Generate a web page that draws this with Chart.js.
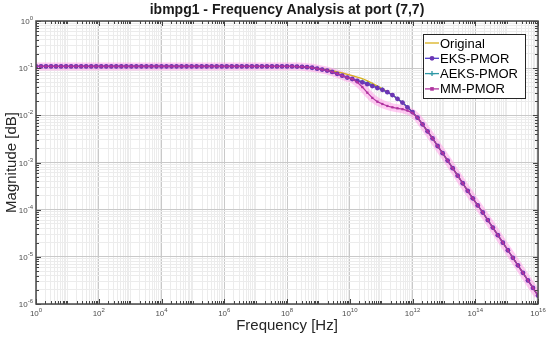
<!DOCTYPE html>
<html>
<head>
<meta charset="utf-8">
<script src="https://cdn.jsdelivr.net/npm/chart.js@4.4.1/dist/chart.umd.min.js"></script>
<style>
  html, body { margin: 0; padding: 0; background: #fff; }
  #wrap { width: 550px; height: 338px; }
</style>
</head>
<body>
<div id="wrap"><canvas id="freqChart"></canvas></div>
<script>
// frequency sweep: 101 log-spaced points from 1 Hz to 1e16 Hz
const freqHz = [];
for (let i = 0; i <= 100; i++) freqHz.push(Math.pow(10, i * 0.16));

const original = [
  0.109, 0.109, 0.109, 0.109, 0.109, 0.109, 0.109, 0.109, 0.109, 0.109,
  0.109, 0.109, 0.109, 0.109, 0.109, 0.109, 0.109, 0.109, 0.109, 0.109,
  0.109, 0.109, 0.109, 0.109, 0.109, 0.109, 0.109, 0.109, 0.109, 0.109,
  0.109, 0.109, 0.109, 0.109, 0.109, 0.109, 0.109, 0.109, 0.109, 0.109,
  0.109, 0.109, 0.109, 0.109, 0.109, 0.109, 0.109, 0.109, 0.109, 0.109,
  0.109, 0.109, 0.108, 0.107, 0.105, 0.102, 0.100, 0.0966, 0.0933, 0.0891,
  0.0832, 0.0794, 0.0741, 0.0692, 0.0646, 0.0603, 0.0537, 0.0479, 0.0417, 0.0363,
  0.0316, 0.0269, 0.0224, 0.0186, 0.0148, 0.0117, 0.00891, 0.00646, 0.00457, 0.00324,
  0.00224, 0.00158, 0.00110, 0.000759, 0.000525, 0.000363, 0.000251, 0.000174, 0.000123, 8.71e-5,
  6.03e-5, 4.17e-5, 2.88e-5, 2.00e-5, 1.38e-5, 9.55e-6, 6.61e-6, 4.57e-6, 3.16e-6, 2.19e-6,
  1.51e-6
];

const eksPmor = [
  0.109, 0.109, 0.109, 0.109, 0.109, 0.109, 0.109, 0.109, 0.109, 0.109,
  0.109, 0.109, 0.109, 0.109, 0.109, 0.109, 0.109, 0.109, 0.109, 0.109,
  0.109, 0.109, 0.109, 0.109, 0.109, 0.109, 0.109, 0.109, 0.109, 0.109,
  0.109, 0.109, 0.109, 0.109, 0.109, 0.109, 0.109, 0.109, 0.109, 0.109,
  0.109, 0.109, 0.109, 0.109, 0.109, 0.109, 0.109, 0.109, 0.109, 0.109,
  0.109, 0.109, 0.108, 0.107, 0.105, 0.102, 0.0977, 0.0933, 0.0891, 0.0832,
  0.0759, 0.0692, 0.0631, 0.0589, 0.0537, 0.0501, 0.0457, 0.0417, 0.0380, 0.0347,
  0.0309, 0.0269, 0.0224, 0.0186, 0.0148, 0.0117, 0.00891, 0.00646, 0.00457, 0.00324,
  0.00224, 0.00158, 0.00110, 0.000759, 0.000525, 0.000363, 0.000251, 0.000174, 0.000123, 8.71e-5,
  6.03e-5, 4.17e-5, 2.88e-5, 2.00e-5, 1.38e-5, 9.55e-6, 6.61e-6, 4.57e-6, 3.16e-6, 2.19e-6,
  1.51e-6
];

const aeksPmor = [
  0.109, 0.109, 0.109, 0.109, 0.109, 0.109, 0.109, 0.109, 0.109, 0.109,
  0.109, 0.109, 0.109, 0.109, 0.109, 0.109, 0.109, 0.109, 0.109, 0.109,
  0.109, 0.109, 0.109, 0.109, 0.109, 0.109, 0.109, 0.109, 0.109, 0.109,
  0.109, 0.109, 0.109, 0.109, 0.109, 0.109, 0.109, 0.109, 0.109, 0.109,
  0.109, 0.109, 0.109, 0.109, 0.109, 0.109, 0.109, 0.109, 0.109, 0.109,
  0.109, 0.109, 0.108, 0.107, 0.105, 0.102, 0.0977, 0.0933, 0.0891, 0.0832,
  0.0759, 0.0692, 0.0631, 0.0589, 0.0537, 0.0525, 0.0490, 0.0447, 0.0398, 0.0355,
  0.0309, 0.0269, 0.0224, 0.0186, 0.0148, 0.0117, 0.00891, 0.00646, 0.00457, 0.00324,
  0.00224, 0.00158, 0.00110, 0.000759, 0.000525, 0.000363, 0.000251, 0.000174, 0.000123, 8.71e-5,
  6.03e-5, 4.17e-5, 2.88e-5, 2.00e-5, 1.38e-5, 9.55e-6, 6.61e-6, 4.57e-6, 3.16e-6, 2.19e-6,
  1.51e-6
];

const mmPmor = [
  0.109, 0.109, 0.109, 0.109, 0.109, 0.109, 0.109, 0.109, 0.109, 0.109,
  0.109, 0.109, 0.109, 0.109, 0.109, 0.109, 0.109, 0.109, 0.109, 0.109,
  0.109, 0.109, 0.109, 0.109, 0.109, 0.109, 0.109, 0.109, 0.109, 0.109,
  0.109, 0.109, 0.109, 0.109, 0.109, 0.109, 0.109, 0.109, 0.109, 0.109,
  0.109, 0.109, 0.109, 0.109, 0.109, 0.109, 0.109, 0.109, 0.109, 0.109,
  0.109, 0.109, 0.108, 0.107, 0.105, 0.102, 0.0977, 0.0933, 0.0891, 0.0832,
  0.0759, 0.0692, 0.0631, 0.0589, 0.0501, 0.0398, 0.0302, 0.0234, 0.0195, 0.0174,
  0.0158, 0.0148, 0.0141, 0.0135, 0.0126, 0.0112, 0.00891, 0.00646, 0.00457, 0.00324,
  0.00224, 0.00158, 0.00110, 0.000759, 0.000525, 0.000363, 0.000251, 0.000174, 0.000123, 8.71e-5,
  6.03e-5, 4.17e-5, 2.88e-5, 2.00e-5, 1.38e-5, 9.55e-6, 6.61e-6, 4.57e-6, 3.16e-6, 2.19e-6,
  1.51e-6
];

const seriesNames = ['Original', 'EKS-PMOR', 'AEKS-PMOR', 'MM-PMOR'];
const xTickExps = [0, 2, 4, 6, 8, 10, 12, 14, 16];
const yTickExps = [0, -1, -2, -3, -4, -5, -6];

const toPts = arr => arr.map((v, i) => ({ x: freqHz[i], y: v }));

// every 1..9 x 10^k between the limits
function logTicks(lo, hi) {
  const out = [];
  for (let k = lo; k <= hi; k++) {
    for (let m = 1; m <= 9; m++) {
      if (k === hi && m > 1) break;
      out.push({ value: m * Math.pow(10, k), major: m === 1, exp: k });
    }
  }
  return out;
}

const colors = {
  original: '#d8b01c',
  eks: '#4a3ccc',
  eksFill: '#6c36b4',
  aeks: '#2f98a6',
  mm: '#b0339f',
  halo: 'rgba(255, 160, 232, 0.55)'
};

const sup = (ctx, base, exp, x, y, align) => {
  ctx.font = '8px "Liberation Sans", Arial, sans-serif';
  const bw = ctx.measureText(base).width;
  ctx.font = '6px "Liberation Sans", Arial, sans-serif';
  const ew = ctx.measureText(exp).width;
  let x0 = x;
  if (align === 'center') x0 = x - (bw + ew) / 2;
  if (align === 'right') x0 = x - (bw + ew);
  ctx.textAlign = 'left';
  ctx.textBaseline = 'alphabetic';
  ctx.font = '8px "Liberation Sans", Arial, sans-serif';
  ctx.fillText(base, x0, y);
  ctx.font = '6px "Liberation Sans", Arial, sans-serif';
  ctx.fillText(exp, x0 + bw, y - 4);
};

const decorPlugin = {
  id: 'decor',
  afterDraw(chart) {
    const ctx = chart.ctx;
    const ca = chart.chartArea;
    const xs = chart.scales.x, ys = chart.scales.y;
    ctx.save();

    // inside tick marks
    ctx.strokeStyle = '#444';
    ctx.lineWidth = 1;
    xs.ticks.forEach(t => {
      const px = Math.round(xs.getPixelForValue(t.value)) + 0.5;
      const len = t.major && t.exp % 2 === 0 ? 5 : 3;
      ctx.beginPath();
      ctx.moveTo(px, ca.bottom); ctx.lineTo(px, ca.bottom - len);
      ctx.moveTo(px, ca.top); ctx.lineTo(px, ca.top + len);
      ctx.stroke();
    });
    ys.ticks.forEach(t => {
      const py = Math.round(ys.getPixelForValue(t.value)) + 0.5;
      const len = t.major ? 5 : 3;
      ctx.beginPath();
      ctx.moveTo(ca.left, py); ctx.lineTo(ca.left + len, py);
      ctx.moveTo(ca.right, py); ctx.lineTo(ca.right - len, py);
      ctx.stroke();
    });

    // frame
    ctx.strokeStyle = '#4a4a4a';
    ctx.lineWidth = 1.5;
    ctx.strokeRect(ca.left, ca.top, ca.right - ca.left, ca.bottom - ca.top);

    // tick labels
    ctx.fillStyle = '#4d4d4d';
    xTickExps.forEach(e => {
      const px = xs.getPixelForValue(Math.pow(10, e));
      sup(ctx, '10', String(e), px, ca.bottom + 12, 'center');
    });
    yTickExps.forEach(e => {
      const py = ys.getPixelForValue(Math.pow(10, e));
      sup(ctx, '10', e === 0 ? '0' : String(e), ca.left - 3, py + 3, 'right');
    });

    // title and axis titles
    const cx = (ca.left + ca.right) / 2;
    ctx.fillStyle = '#1a1a1a';
    ctx.textAlign = 'center';
    ctx.textBaseline = 'middle';
    ctx.font = 'bold 14px "Liberation Sans", Arial, sans-serif';
    ctx.fillText('ibmpg1 - Frequency Analysis at port (7,7)', cx, 10);
    ctx.font = '15px "Liberation Sans", Arial, sans-serif';
    ctx.fillStyle = '#262626';
    ctx.fillText('Frequency [Hz]', cx, 326);
    ctx.save();
    ctx.translate(12, (ca.top + ca.bottom) / 2);
    ctx.rotate(-Math.PI / 2);
    ctx.fillText('Magnitude [dB]', 0, 0);
    ctx.restore();

    // legend
    const lx = ca.right - 115, ly = ca.top + 13, lw = 102, lh = 64;
    ctx.fillStyle = '#fff';
    ctx.fillRect(lx, ly, lw, lh);
    ctx.strokeStyle = '#262626';
    ctx.lineWidth = 1;
    ctx.strokeRect(lx + 0.5, ly + 0.5, lw, lh);
    const items = [
      { c: colors.original, m: null },
      { c: colors.eks, m: 'circle' },
      { c: colors.aeks, m: 'cross' },
      { c: colors.mm, m: 'rect' }
    ];
    items.forEach((it, i) => {
      const ry = ly + 9 + i * 15.3;
      ctx.strokeStyle = it.c;
      ctx.lineWidth = 1.3;
      ctx.beginPath();
      ctx.moveTo(lx + 2, ry); ctx.lineTo(lx + 16, ry);
      ctx.stroke();
      const mx = lx + 9;
      if (it.m === 'circle') {
        ctx.fillStyle = colors.eksFill;
        ctx.beginPath(); ctx.arc(mx, ry, 2.4, 0, Math.PI * 2); ctx.fill();
      } else if (it.m === 'cross') {
        ctx.beginPath();
        ctx.moveTo(mx - 2.5, ry); ctx.lineTo(mx + 2.5, ry);
        ctx.moveTo(mx, ry - 2.5); ctx.lineTo(mx, ry + 2.5);
        ctx.stroke();
      } else if (it.m === 'rect') {
        ctx.fillStyle = it.c;
        ctx.fillRect(mx - 1.8, ry - 1.8, 3.6, 3.6);
      }
      ctx.fillStyle = '#000';
      ctx.textAlign = 'left';
      ctx.font = '13px "Liberation Sans", Arial, sans-serif';
      ctx.fillText(seriesNames[i], lx + 17, ry + 1);
    });
    ctx.restore();
  }
};

const gridColor = (c) => {
  const t = c.tick;
  if (!t) return '#eeeeee';
  const lg = Math.log10(t.value);
  const isDecade = Math.abs(lg - Math.round(lg)) < 1e-9;
  if (c.scale.axis === 'x') return isDecade && Math.round(lg) % 2 === 0 ? '#c9c9c9' : '#ececec';
  return isDecade ? '#c9c9c9' : '#ececec';
};

new Chart(document.getElementById('freqChart'), {
  type: 'line',
  data: {
    datasets: [
      {
        label: 'halo', data: toPts(mmPmor), borderColor: colors.halo,
        borderWidth: 8, pointRadius: 0, order: 9
      },
      {
        label: seriesNames[2], data: toPts(aeksPmor), borderColor: colors.aeks,
        backgroundColor: colors.aeks, borderWidth: 1.2,
        pointRadius: 2, pointBorderWidth: 1, pointStyle: 'cross', order: 6
      },
      {
        label: seriesNames[0], data: toPts(original), borderColor: colors.original,
        borderWidth: 1.3, pointRadius: 0, order: 5
      },
      {
        label: seriesNames[1], data: toPts(eksPmor), borderColor: colors.eks,
        backgroundColor: colors.eksFill, borderWidth: 1.3,
        pointRadius: 2.4, pointBorderWidth: 0, pointStyle: 'circle', order: 4
      },
      {
        label: seriesNames[3], data: toPts(mmPmor), borderColor: colors.mm,
        backgroundColor: colors.mm, borderWidth: 1.2,
        pointRadius: 1.6, pointBorderWidth: 0, pointStyle: 'rect', order: 2
      }
    ]
  },
  options: {
    responsive: true,
    maintainAspectRatio: false,
    animation: false,
    layout: { padding: { left: 36, right: 12, top: 21, bottom: 34 } },
    plugins: { legend: { display: false }, title: { display: false }, tooltip: { enabled: false } },
    elements: { line: { tension: 0 } },
    scales: {
      x: {
        type: 'logarithmic', min: 1, max: 1e16,
        afterBuildTicks: s => { s.ticks = logTicks(0, 16); },
        ticks: { display: false },
        grid: { color: gridColor, drawTicks: false, lineWidth: 1 },
        border: { display: false }
      },
      y: {
        type: 'logarithmic', min: 1e-6, max: 1,
        afterBuildTicks: s => { s.ticks = logTicks(-6, 0); },
        ticks: { display: false },
        grid: { color: gridColor, drawTicks: false, lineWidth: 1 },
        border: { display: false }
      }
    }
  },
  plugins: [decorPlugin]
});
</script>
</body>
</html>
